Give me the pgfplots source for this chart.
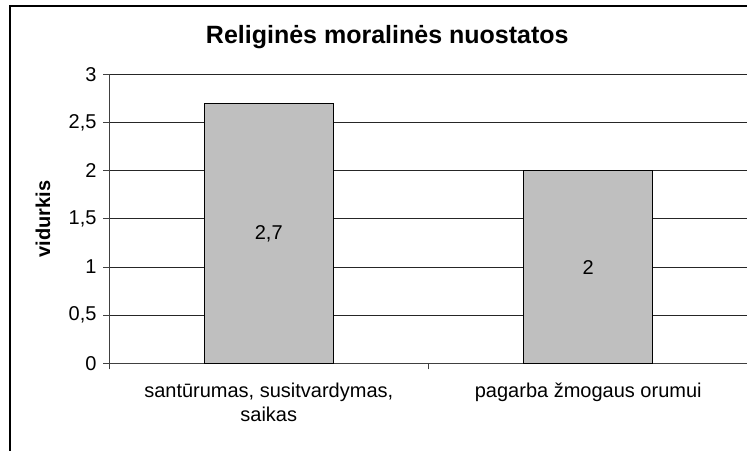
\documentclass[border=0pt]{standalone}
\usepackage{fontspec}
\setmainfont{Liberation Sans}
\usepackage{pgfplots}
\pgfplotsset{compat=1.18}
\begin{document}
\begin{tikzpicture}[x=1bp,y=1bp]
\useasboundingbox (0,0) rectangle (747,451);
\clip (0,0) rectangle (747,451);
\draw[line width=2bp] (10,-20) -- (10,444.5) -- (800,444.5);
\begin{axis}[
  at={(109bp,87.5bp)}, anchor=south west,
  width=639bp, height=289.2bp, scale only axis,
  xmin=0, xmax=2, ymin=0, ymax=3,
  ytick={0,0.5,1,1.5,2,2.5,3},
  /pgf/number format/assume math mode=true,
  /pgf/number format/use comma,
  /pgf/number format/fixed,
  ymajorgrids, grid style={black!85, line width=0.8bp},
  xtick={0,1,2}, xticklabels={},
  extra x ticks={0.5,1.5},
  extra x tick labels={{santūrumas, susitvardymas,\\saikas},{pagarba žmogaus orumui}},
  extra x tick style={major tick length=0pt, grid=none, xticklabel style={yshift=-16bp}},
  xticklabel style={align=center},
  axis x line*=bottom, axis y line*=left,
  axis line style={black!75, line width=0.8bp},
  tick style={black!75, line width=0.8bp},
  tick align=outside, major tick length=6bp,
  ticklabel style={font=\fontsize{20bp}{24bp}\selectfont},
  yticklabel style={xshift=-3bp},
  ylabel={vidurkis},
  ylabel style={font=\fontsize{20bp}{24bp}\selectfont\bfseries, at={(axis description cs:-0.0923,0.5)}, anchor=base, rotate=0},
  title={Religinės moralinės nuostatos},
  title style={font=\fontsize{25bp}{30bp}\selectfont\bfseries, at={(axis description cs:0.4355,1.0875)}, anchor=base},
  clip=false,
]
\addplot[ybar, bar width=129bp, fill=black!25, draw=black, line width=0.8bp] coordinates {(0.5,2.7) (1.5,2)};
\addplot[draw=none, nodes near coords, point meta=explicit symbolic,
  every node near coord/.style={anchor=center, text=black, font=\fontsize{20bp}{24bp}\selectfont}]
  coordinates {(0.5,1.35)[2{,}7] (1.5,1)[2]};
\end{axis}
\end{tikzpicture}
\end{document}
